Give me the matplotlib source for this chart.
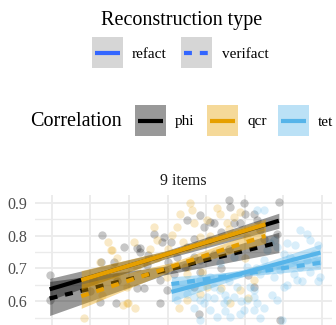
import matplotlib
matplotlib.use("Agg")
import matplotlib.pyplot as plt
from matplotlib.patches import Rectangle
from matplotlib.lines import Line2D
import numpy as np

plt.rcParams['font.family'] = ['Liberation Serif', 'DejaVu Serif']

# ---------------- data ----------------
correlations = ["phi", "qcr", "tet"]
recon_types = ["refact", "verifact"]
panel_title = "9 items"
y_ticks = [0.6, 0.7, 0.8, 0.9]
y_tick_labels = ["0.6", "0.7", "0.8", "0.9"]

phi_x = [-0.04, -0.06, 1.30, 1.26, 1.65, 2.21, 2.29, 2.47, 2.64, 2.86, 2.90, 2.81, 2.38,
         2.21, 2.81, 2.99, 2.94, 3.16, 3.51, 3.51, 3.85, 3.94, 4.11, 4.20, 4.07, 4.20,
         4.03, 3.68, 3.85, 3.81, 4.59, 4.63, 4.98, 4.72, 4.89, 5.02, 5.24, 5.32, 5.41,
         5.24, 5.89, 5.84, 5.93, 3.68, 3.85, 3.25, 3.46, 1.28, 2.29, 1.86, 1.60,
         2.50, 3.10, 3.70, 4.40, 4.60, 5.50, 3.00, 4.40, 1.00, 1.70, 5.10]
phi_y = [0.679, 0.603, 0.803, 0.598, 0.593, 0.761, 0.750, 0.710, 0.806, 0.781, 0.796, 0.664, 0.639,
         0.639, 0.593, 0.633, 0.695, 0.684, 0.847, 0.766, 0.862, 0.827, 0.842, 0.837, 0.786, 0.745,
         0.735, 0.735, 0.725, 0.562, 0.908, 0.888, 0.898, 0.837, 0.837, 0.867, 0.867, 0.847, 0.817,
         0.644, 0.903, 0.806, 0.542, 0.644, 0.689, 0.735, 0.705, 0.720, 0.762, 0.766, 0.720,
         0.740, 0.780, 0.790, 0.810, 0.760, 0.790, 0.720, 0.700, 0.630, 0.660, 0.680]

qcr_x = [0.82, 1.26, 1.52, 1.60, 1.65, 1.95, 1.95, 2.16, 2.12, 2.64, 2.73, 2.73, 2.99, 3.12,
         3.25, 3.33, 3.59, 3.64, 3.68, 3.85, 4.03, 4.29, 4.37, 4.55, 4.72, 4.89, 5.06, 3.51,
         3.85, 4.03, 4.63, 4.89, 5.32, 5.24, 3.51, 3.51, 1.45, 1.56, 1.69, 1.98, 1.85,
         2.40, 2.55, 3.00, 3.40, 4.10, 4.60, 5.00, 3.90, 2.20, 1.10, 1.30, 4.40, 5.10, 3.30]
qcr_y = [0.547, 0.720, 0.756, 0.705, 0.674, 0.644, 0.593, 0.578, 0.781, 0.827, 0.786, 0.730, 0.674, 0.801,
         0.827, 0.867, 0.898, 0.878, 0.837, 0.796, 0.847, 0.883, 0.867, 0.837, 0.857, 0.873, 0.796, 0.603,
         0.623, 0.644, 0.593, 0.633, 0.695, 0.664, 0.705, 0.684, 0.781, 0.756, 0.731, 0.594, 0.588,
         0.720, 0.760, 0.760, 0.780, 0.800, 0.820, 0.730, 0.690, 0.700, 0.660, 0.620, 0.640, 0.610, 0.580]

tet_x = [3.25, 3.51, 3.68, 3.85, 3.94, 4.03, 4.20, 4.37, 4.46, 4.55, 4.63, 4.72, 4.81, 4.98,
         5.06, 5.15, 5.24, 5.32, 5.41, 5.50, 5.58, 5.67, 5.76, 5.84, 5.93, 6.02, 6.10, 6.19,
         6.28, 6.36, 6.45, 6.62, 6.71, 6.80, 6.88, 6.97, 6.62, 6.45, 6.28, 6.02, 5.76, 5.58,
         5.24, 5.50, 5.32, 5.06, 4.72, 4.37, 4.11, 3.85, 3.59, 4.29, 4.11, 4.89, 5.24, 5.84,
         5.97, 3.85, 4.50, 4.90, 5.50, 5.70, 6.10, 6.50, 6.90, 6.70, 5.90, 5.30, 4.60, 4.20,
         3.70, 6.30, 6.90, 5.40, 4.50]
tet_y = [0.603, 0.623, 0.613, 0.542, 0.593, 0.613, 0.644, 0.633, 0.593, 0.603, 0.552, 0.613, 0.644, 0.572,
         0.603, 0.644, 0.633, 0.593, 0.684, 0.725, 0.756, 0.776, 0.786, 0.766, 0.695, 0.745, 0.776, 0.735,
         0.684, 0.664, 0.817, 0.806, 0.786, 0.745, 0.715, 0.674, 0.725, 0.705, 0.725, 0.644, 0.674, 0.695,
         0.613, 0.878, 0.878, 0.705, 0.735, 0.715, 0.674, 0.664, 0.644, 0.552, 0.572, 0.562, 0.572, 0.603,
         0.542, 0.603, 0.620, 0.600, 0.580, 0.620, 0.650, 0.660, 0.660, 0.690, 0.710, 0.700, 0.660, 0.610,
         0.580, 0.770, 0.770, 0.550, 0.570]

# fitted lines with confidence bands (start, middle, end)
phi_fit_x = [-0.06, 2.92, 5.89]
phi_refact_fit = [0.636, 0.740, 0.845]
phi_refact_lo = [0.603, 0.728, 0.822]
phi_refact_hi = [0.669, 0.752, 0.868]
phi_verifact_fit = [0.608, 0.693, 0.779]
phi_verifact_lo = [0.556, 0.680, 0.748]
phi_verifact_hi = [0.660, 0.706, 0.810]

qcr_fit_x = [0.76, 3.15, 5.54]
qcr_refact_fit = [0.664, 0.749, 0.834]
qcr_refact_lo = [0.635, 0.739, 0.818]
qcr_refact_hi = [0.693, 0.759, 0.850]
qcr_verifact_fit = [0.615, 0.707, 0.799]
qcr_verifact_lo = [0.578, 0.695, 0.776]
qcr_verifact_hi = [0.652, 0.719, 0.822]

tet_fit_x = [3.10, 5.03, 6.97]
tet_refact_fit = [0.628, 0.688, 0.748]
tet_refact_lo = [0.598, 0.678, 0.722]
tet_refact_hi = [0.658, 0.698, 0.774]
tet_verifact_fit = [0.652, 0.684, 0.717]
tet_verifact_lo = [0.630, 0.676, 0.697]
tet_verifact_hi = [0.674, 0.692, 0.737]

# ---------------- style ----------------
colors = {"phi": "#000000", "qcr": "#E69F00", "tet": "#56B4E9"}
key_fill = {"phi": "#999999", "qcr": "#F5D999", "tet": "#BBE1F6"}
LW = 3.0
DASH = (1.9, 1.9)

W, H = 336, 325
fig = plt.figure(figsize=(W / 100, H / 100), dpi=100)

def fx(px):
    return px / W

def fy(py):
    return 1 - py / H

ax = fig.add_axes([fx(35), fy(333.9), (332 - 35) / W, (333.9 - 194.5) / H])
ax.set_xlim(-0.44, 7.27)
ax.set_ylim(0.5, 0.925)
for s in ax.spines.values():
    s.set_visible(False)
ax.set_xticks(np.arange(0, 8))
ax.set_xticklabels([])
ax.set_yticks(y_ticks)
ax.set_yticklabels(y_tick_labels)
ax.set_yticks([0.55, 0.65, 0.75, 0.85], minor=True)
ax.tick_params(axis='both', which='both', length=0)
ax.tick_params(axis='y', labelsize=11.5, labelcolor="#4d4d4d", pad=5.5)
ax.grid(True, which='major', color="#ebebeb", lw=1.3)
ax.grid(True, which='minor', axis='y', color="#ebebeb", lw=1.0)
ax.set_axisbelow(True)

pts = {"phi": (phi_x, phi_y), "qcr": (qcr_x, qcr_y), "tet": (tet_x, tet_y)}
for c in correlations:
    x, y = pts[c]
    ax.scatter(x, y, s=36, color=colors[c], alpha=0.22, lw=0, zorder=2)

fits = {
    "phi": (phi_fit_x, [(phi_refact_fit, phi_refact_lo, phi_refact_hi),
                        (phi_verifact_fit, phi_verifact_lo, phi_verifact_hi)]),
    "qcr": (qcr_fit_x, [(qcr_refact_fit, qcr_refact_lo, qcr_refact_hi),
                        (qcr_verifact_fit, qcr_verifact_lo, qcr_verifact_hi)]),
    "tet": (tet_fit_x, [(tet_refact_fit, tet_refact_lo, tet_refact_hi),
                        (tet_verifact_fit, tet_verifact_lo, tet_verifact_hi)]),
}
z = 3
for c in correlations:
    fxs, groups = fits[c]
    for i, (fit, lo, hi) in enumerate(groups):
        ax.fill_between(fxs, lo, hi, color=colors[c], alpha=0.4, lw=0, zorder=z)
        ln, = ax.plot(fxs, fit, color=colors[c], lw=LW, zorder=z + 0.5,
                      solid_capstyle='butt', dash_capstyle='butt')
        if recon_types[i] == "verifact":
            ln.set_dashes(DASH)
        z += 1

fig.text(fx(183), fy(185), panel_title, ha='center', va='baseline', fontsize=11.5, color="#1a1a1a")

# ---------------- legends ----------------
def key_box(x0, y0, fill):
    fig.add_artist(Rectangle((fx(x0), fy(y0 + 31)), 31 / W, 31 / H,
                             transform=fig.transFigure, facecolor=fill, edgecolor='none'))

def key_line(x0, yc, color, dashed=False):
    l = Line2D([fx(x0 + 3), fx(x0 + 28)], [fy(yc), fy(yc)], transform=fig.transFigure,
               color=color, lw=LW, solid_capstyle='butt', dash_capstyle='butt')
    if dashed:
        l.set_dashes(DASH)
    fig.add_artist(l)

fig.text(fx(182), fy(25), "Reconstruction type", ha='center', va='baseline', fontsize=14.5)
rt_x = [92, 181]
rt_lab_x = [132, 222]
for i, r in enumerate(recon_types):
    key_box(rt_x[i], 37, "#d6d6d6")
    key_line(rt_x[i], 52.5, "#3366FF", dashed=(r == "verifact"))
    fig.text(fx(rt_lab_x[i]), fy(57.5), r, ha='left', va='baseline', fontsize=11)

fig.text(fx(30), fy(126.5), "Correlation", ha='left', va='baseline', fontsize=14.5)
c_x = [135, 207, 278]
c_lab_x = [175, 247, 318]
for i, c in enumerate(correlations):
    key_box(c_x[i], 105, key_fill[c])
    key_line(c_x[i], 120.5, colors[c])
    fig.text(fx(c_lab_x[i]), fy(125.5), c, ha='left', va='baseline', fontsize=11)

fig.savefig("out.png", dpi=100)
